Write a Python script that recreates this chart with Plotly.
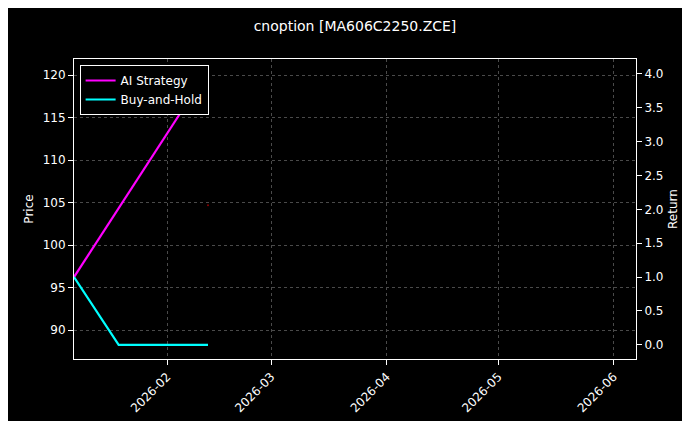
import plotly.graph_objects as go

dates = ["2026-01-07", "2026-01-19", "2026-02-12"]
ai_dates = ["2026-01-07", "2026-02-12"]
ai_return = [1.0, 4.05]
bh_return = [1.0, 0.0, 0.0]
price_dates = ["2026-02-12"]
price = [104.7]

fig = go.Figure()
fig.add_trace(go.Scatter(x=price_dates, y=price, mode="markers", marker=dict(color="#8b0000", size=2),
                         showlegend=False, yaxis="y"))
fig.add_trace(go.Scatter(x=ai_dates, y=ai_return, mode="lines", name="AI Strategy",
                         line=dict(color="#ff00ff", width=2.2), yaxis="y2"))
fig.add_trace(go.Scatter(x=dates, y=bh_return, mode="lines", name="Buy-and-Hold",
                         line=dict(color="#00ffff", width=2.2), yaxis="y2"))

grid = dict(showgrid=True, gridcolor="#4a4a4a", griddash="dot", gridwidth=0.6)
fig.update_layout(
    width=690, height=421, paper_bgcolor="black", plot_bgcolor="black",
    font=dict(family="DejaVu Sans", color="white", size=12),
    title=dict(text="cnoption [MA606C2250.ZCE]", x=0.5, xanchor="center", xref="paper",
               y=1 - 18 / 421, yref="container", yanchor="middle", font=dict(size=14)),
    margin=dict(l=66, r=62, t=51, b=70, autoexpand=False),
    xaxis=dict(range=["2026-01-07", "2026-06-07"], tickvals=["2026-02-01", "2026-03-01", "2026-04-01", "2026-05-01", "2026-06-01"],
               ticktext=["2026-02", "2026-03", "2026-04", "2026-05", "2026-06"], tickangle=-45,
               showline=True, linecolor="white", mirror=True, ticks="outside", tickcolor="white", **grid),
    yaxis=dict(title=dict(text="Price", standoff=6, font=dict(size=12)), range=[86.6, 121.9], dtick=5, showline=True,
               linecolor="white", ticks="outside", tickcolor="white", zeroline=False, **grid),
    yaxis2=dict(title=dict(text="Return", standoff=6, font=dict(size=12)), range=[-0.21, 4.22], dtick=0.5, tickformat=".1f",
                overlaying="y", side="right", showline=True, linecolor="white", ticks="outside", tickcolor="white",
                showgrid=False, zeroline=False),
    legend=dict(x=0.01, y=0.98, xanchor="left", yanchor="top", bgcolor="black", bordercolor="white", borderwidth=1,
                font=dict(size=12)),
)
fig.write_html("out.html")
